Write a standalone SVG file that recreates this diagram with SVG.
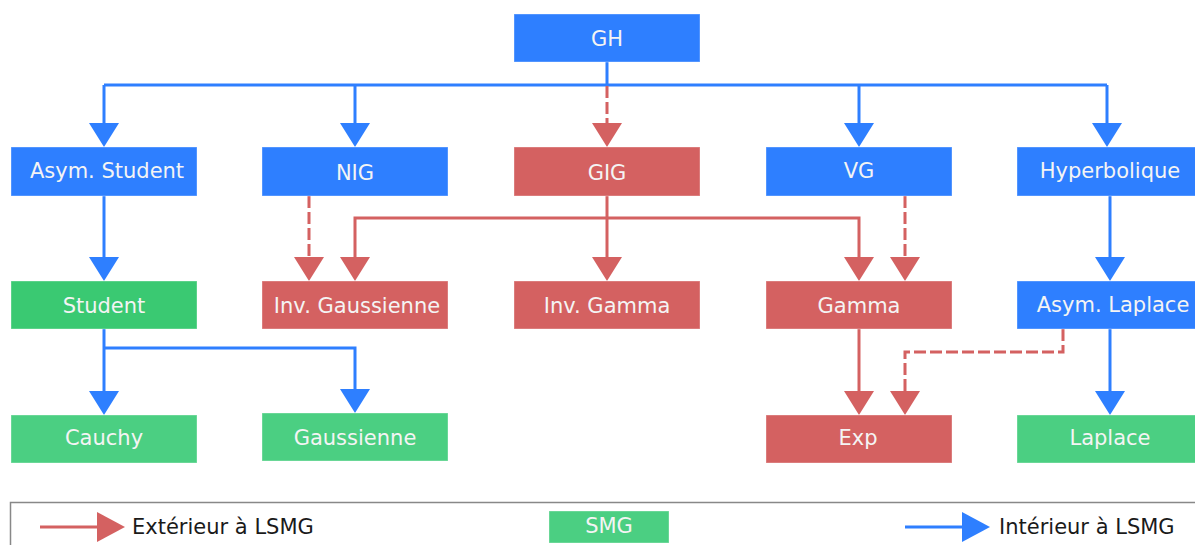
<svg xmlns="http://www.w3.org/2000/svg" width="1195" height="545" viewBox="0 0 1195 545">
<style>
.b{fill:#2e7fff}
.r{fill:#d46161}
.g{fill:#4bcf82}
.gd{fill:#3ac972}
rect{stroke:#ffffff;stroke-opacity:0.35;stroke-width:1}
.t{font-family:"DejaVu Sans",sans-serif;font-size:21px;fill:#f4f4f4;text-anchor:middle}
.lt{font-family:"DejaVu Sans",sans-serif;font-size:21px;fill:#1a1a1a}
.cb{fill:none;stroke:#2e7fff;stroke-width:3}
.cr{fill:none;stroke:#d46161;stroke-width:3}
.cd{fill:none;stroke:#d46161;stroke-width:3;stroke-dasharray:12 4}
</style>
<defs>
<marker id="ab" markerUnits="userSpaceOnUse" markerWidth="24" markerHeight="30" refX="0" refY="15" orient="auto" overflow="visible"><path d="M0,0 L24,15 L0,30 z" fill="#2e7fff"/></marker>
<marker id="ar" markerUnits="userSpaceOnUse" markerWidth="24" markerHeight="30" refX="0" refY="15" orient="auto" overflow="visible"><path d="M0,0 L24,15 L0,30 z" fill="#d46161"/></marker>
<marker id="lb" markerUnits="userSpaceOnUse" markerWidth="28" markerHeight="30" refX="0" refY="15" orient="auto" overflow="visible"><path d="M0,0 L28,15 L0,30 z" fill="#2e7fff"/></marker>
<marker id="lr" markerUnits="userSpaceOnUse" markerWidth="28" markerHeight="30" refX="0" refY="15" orient="auto" overflow="visible"><path d="M0,0 L28,15 L0,30 z" fill="#d46161"/></marker>
</defs>
<g id="connectors">
<path class="cb" d="M607,62 V85 M104,85 H1107"/>
<path class="cb" d="M104,85 V123" marker-end="url(#ab)"/>
<path class="cb" d="M355,85 V123" marker-end="url(#ab)"/>
<path class="cb" d="M859,85 V123" marker-end="url(#ab)"/>
<path class="cb" d="M1107,85 V123" marker-end="url(#ab)"/>
<path class="cd" d="M607,86 V123" marker-end="url(#ar)"/>
<path class="cb" d="M104,196 V257" marker-end="url(#ab)"/>
<path class="cb" d="M104,329 V391" marker-end="url(#ab)"/>
<path class="cb" d="M104,348 H355 V389" marker-end="url(#ab)"/>
<path class="cb" d="M1110,196 V257" marker-end="url(#ab)"/>
<path class="cb" d="M1110,329 V391" marker-end="url(#ab)"/>
<path class="cr" d="M607,196 V257" marker-end="url(#ar)"/>
<path class="cr" d="M607,218 H355 V257" marker-end="url(#ar)"/>
<path class="cr" d="M607,218 H859 V257" marker-end="url(#ar)"/>
<path class="cr" d="M859,329 V391" marker-end="url(#ar)"/>
<path class="cd" d="M309,196 V257" marker-end="url(#ar)"/>
<path class="cd" d="M905,196 V257" marker-end="url(#ar)"/>
<path class="cd" d="M1063,329 V352 H905 V391" marker-end="url(#ar)"/>
</g>
<g id="n-gh"><rect class="b" x="514" y="14" width="186" height="48"/><text class="t" x="607" y="46">GH</text></g>
<g id="n-asym-student"><rect class="b" x="11" y="147" width="186" height="49"/><text class="t" x="107" y="178">Asym. Student</text></g>
<g id="n-nig"><rect class="b" x="262" y="147" width="186" height="49"/><text class="t" x="355" y="180">NIG</text></g>
<g id="n-gig"><rect class="r" x="514" y="147" width="186" height="49"/><text class="t" x="607" y="180">GIG</text></g>
<g id="n-vg"><rect class="b" x="766" y="147" width="186" height="49"/><text class="t" x="859" y="178">VG</text></g>
<g id="n-hyperbolique"><rect class="b" x="1017" y="147" width="186" height="49"/><text class="t" x="1110" y="178">Hyperbolique</text></g>
<g id="n-student"><rect class="gd" x="11" y="281" width="186" height="48"/><text class="t" x="104" y="313">Student</text></g>
<g id="n-inv-gaussienne"><rect class="r" x="262" y="281" width="186" height="48"/><text class="t" x="357" y="313">Inv. Gaussienne</text></g>
<g id="n-inv-gamma"><rect class="r" x="514" y="281" width="186" height="48"/><text class="t" x="607" y="313">Inv. Gamma</text></g>
<g id="n-gamma"><rect class="r" x="766" y="281" width="186" height="48"/><text class="t" x="859" y="313">Gamma</text></g>
<g id="n-asym-laplace"><rect class="b" x="1017" y="281" width="186" height="48"/><text class="t" x="1113" y="312">Asym. Laplace</text></g>
<g id="n-cauchy"><rect class="g" x="11" y="415" width="186" height="48"/><text class="t" x="104" y="445">Cauchy</text></g>
<g id="n-gaussienne"><rect class="g" x="262" y="413" width="186" height="48"/><text class="t" x="355" y="445">Gaussienne</text></g>
<g id="n-exp"><rect class="r" x="766" y="415" width="186" height="48"/><text class="t" x="858" y="445">Exp</text></g>
<g id="n-laplace"><rect class="g" x="1017" y="415" width="186" height="48"/><text class="t" x="1110" y="445">Laplace</text></g>
<g id="legend">
<path d="M10.5,546 V502.5 H1196" fill="none" stroke="#888888" stroke-width="1.5"/>
<path class="cr" d="M40,527 H97" marker-end="url(#lr)"/>
<text class="lt" x="132" y="534">Extérieur à LSMG</text>
<rect class="g" x="549" y="511" width="120" height="32"/>
<text class="t" x="609" y="533">SMG</text>
<path class="cb" d="M905,527 H962" marker-end="url(#lb)"/>
<text class="lt" x="999" y="534">Intérieur à LSMG</text>
</g>
</svg>
